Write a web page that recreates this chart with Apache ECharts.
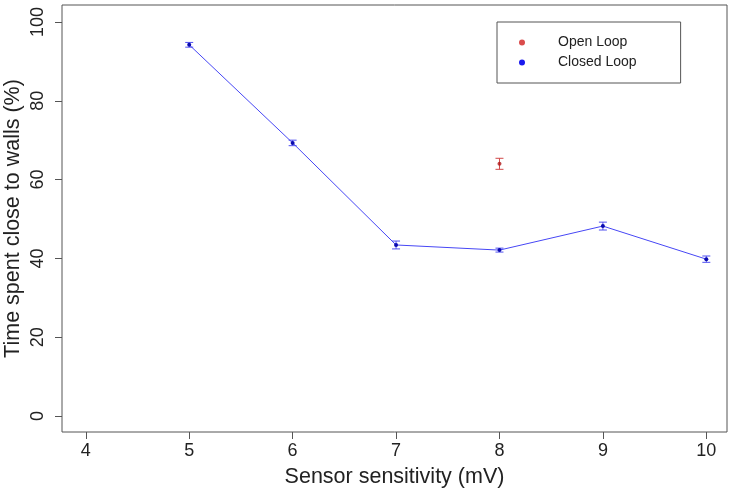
<!DOCTYPE html>
<html>
<head>
<meta charset="utf-8">
<script src="https://cdn.jsdelivr.net/npm/echarts@6/dist/echarts.min.js"></script>
<style>
  html, body { margin: 0; padding: 0; background: #fff; }
  #chart { width: 733px; height: 493px; }
</style>
</head>
<body>
<div id="chart"></div>
<script>
  // sensitivity (mV) and % time near walls
  var closedX = [5, 6, 7, 8, 9, 10];
  var closedY = [94.2, 69.3, 43.4, 42.1, 48.2, 39.8];
  var closedErr = [0.6, 0.7, 1.0, 0.5, 1.0, 0.8];
  var openX = [8];
  var openY = [64.0];
  var openErr = [1.4];
  var xTicks = [4, 5, 6, 7, 8, 9, 10];
  var yTicks = [0, 20, 40, 60, 80, 100];

  var font = 'Liberation Sans, Arial, sans-serif';

  function pairs(xs, ys) {
    return xs.map(function (x, i) { return [x, ys[i]]; });
  }
  function errData(xs, ys, es) {
    return xs.map(function (x, i) { return [x, ys[i] - es[i], ys[i] + es[i]]; });
  }
  function errRender(color) {
    return function (params, api) {
      var lo = api.coord([api.value(0), api.value(1)]);
      var hi = api.coord([api.value(0), api.value(2)]);
      var w = 4;
      var st = { stroke: color, lineWidth: 1 };
      return {
        type: 'group',
        children: [
          { type: 'line', shape: { x1: lo[0], y1: lo[1], x2: hi[0], y2: hi[1] }, style: st },
          { type: 'line', shape: { x1: lo[0] - w, y1: lo[1], x2: lo[0] + w, y2: lo[1] }, style: st },
          { type: 'line', shape: { x1: hi[0] - w, y1: hi[1], x2: hi[0] + w, y2: hi[1] }, style: st }
        ]
      };
    };
  }

  var chart = echarts.init(document.getElementById('chart'));
  chart.setOption({
    animation: false,
    textStyle: { fontFamily: font },
    grid: {
      left: 62, right: 6, top: 5, bottom: 61,
      outerBoundsMode: 'none',
      show: true, borderColor: '#555', borderWidth: 1
    },
    legend: {
      orient: 'vertical',
      left: 497, top: 22,
      padding: [13, 44, 13, 22],
      itemGap: 5,
      itemWidth: 6, itemHeight: 6,
      borderColor: '#555', borderWidth: 1,
      data: [
        { name: 'Open Loop', icon: 'circle', itemStyle: { color: '#d11f1f' } },
        { name: 'Closed Loop', icon: 'circle', itemStyle: { color: '#1a1aee' } }
      ],
      textStyle: { fontSize: 14, color: '#222', padding: [0, 0, 0, 28], lineHeight: 15 }
    },
    xAxis: {
      type: 'value',
      min: 3.77, max: 10.2,
      name: 'Sensor sensitivity (mV)',
      nameLocation: 'middle',
      nameMoveOverlap: false,
      nameGap: 34,
      nameTextStyle: { fontSize: 21.5, color: '#222', fontFamily: font },
      splitLine: { show: false },
      axisLine: { show: false, onZero: false },
      axisTick: { show: true, length: 7, lineStyle: { color: '#555' }, customValues: xTicks },
      axisLabel: { fontSize: 18, color: '#222', margin: 10, customValues: xTicks }
    },
    yAxis: {
      type: 'value',
      min: -4.06, max: 104.3,
      name: 'Time spent close to walls (%)',
      nameLocation: 'middle',
      nameMoveOverlap: false,
      nameGap: 38,
      nameTextStyle: { fontSize: 21.5, color: '#222', fontFamily: font },
      splitLine: { show: false },
      axisLine: { show: false, onZero: false },
      axisTick: { show: true, length: 7, lineStyle: { color: '#555' }, customValues: yTicks },
      axisLabel: { fontSize: 18, color: '#222', margin: 15, rotate: 90, customValues: yTicks }
    },
    series: [
      {
        name: 'Closed Loop',
        type: 'line',
        data: pairs(closedX, closedY),
        symbol: 'circle',
        symbolSize: 4,
        itemStyle: { color: '#0a0ab0' },
        lineStyle: { color: '#4646f5', width: 1 },
        z: 3
      },
      {
        name: 'Closed Loop',
        type: 'custom',
        data: errData(closedX, closedY, closedErr),
        renderItem: errRender('#5050f0'),
        encode: { x: 0, y: [1, 2] },
        z: 2
      },
      {
        name: 'Open Loop',
        type: 'scatter',
        data: pairs(openX, openY),
        symbol: 'circle',
        symbolSize: 4,
        itemStyle: { color: '#b01818' },
        z: 3
      },
      {
        name: 'Open Loop',
        type: 'custom',
        data: errData(openX, openY, openErr),
        renderItem: errRender('#d04848'),
        encode: { x: 0, y: [1, 2] },
        z: 2
      }
    ]
  });
</script>
</body>
</html>
